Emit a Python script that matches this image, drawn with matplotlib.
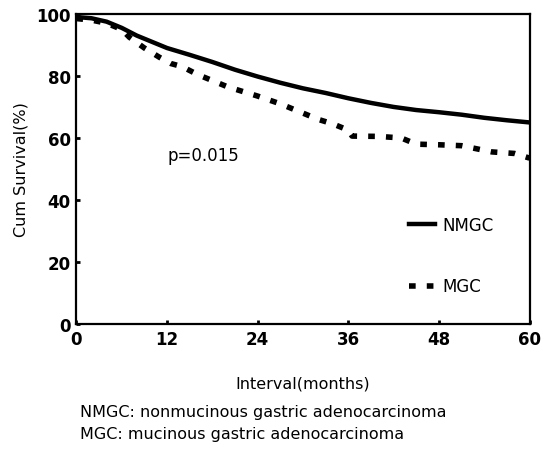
import matplotlib
matplotlib.use("Agg")
import matplotlib.pyplot as plt

# Kaplan-Meier curves (months, cum survival %)
months_nmgc = [0, 2, 4, 6, 8, 10, 12, 15, 18, 21, 24, 27, 30, 33, 36, 39, 42, 45, 48, 51, 54, 57, 60]
surv_nmgc = [99, 98.6, 97.5, 95.5, 93, 91, 89, 86.8, 84.5, 82, 79.8, 77.8, 76, 74.5, 72.8, 71.3, 70, 69, 68.3, 67.5, 66.5, 65.7, 65]

months_mgc = [0, 2, 4, 6, 7, 9, 11, 12.5, 14, 16, 18, 20, 22, 24, 27, 30, 32, 34, 36, 36.5, 40, 43, 45, 48, 51, 53, 55, 58, 60]
surv_mgc = [98.5, 98, 97, 95, 92.5, 89, 86, 84, 83, 80.5, 78.5, 76.5, 75, 73.5, 71, 68, 66, 64.5, 62.5, 60.6, 60.5, 60, 58, 57.8, 57.5, 56.5, 55.5, 55, 53.5]

xticks = [0, 12, 24, 36, 48, 60]
yticks = [0, 20, 40, 60, 80, 100]

fig = plt.figure(figsize=(5.42, 4.52), dpi=100)
ax = fig.add_axes([0.141, 0.281, 0.836, 0.686])

ax.plot(months_nmgc, surv_nmgc, color="black", lw=3.2, label="NMGC")
ax.plot(months_mgc, surv_mgc, color="black", lw=4, linestyle=(0, (1.2, 2.0)), label="MGC")

ax.set_xlim(0, 60)
ax.set_ylim(0, 100)
ax.set_xticks(xticks)
ax.set_yticks(yticks)
ax.tick_params(direction="in", length=3, width=2, labelsize=12, pad=4)
for lab in ax.get_xticklabels() + ax.get_yticklabels():
    lab.set_fontweight("bold")
for s in ax.spines.values():
    s.set_linewidth(1.6)

ax.set_xlabel("Interval(months)", fontsize=11.5, labelpad=20)
ax.set_ylabel("Cum Survival(%)", fontsize=11.5, labelpad=6)

ax.text(12, 53, "p=0.015", fontsize=12)

ax.legend(loc="center left", bbox_to_anchor=(0.7, 0.22), frameon=False,
          fontsize=12, handlelength=1.6, labelspacing=2.6, handletextpad=0.4)

fig.text(0.148, 0.077, "NMGC: nonmucinous gastric adenocarcinoma", fontsize=11.5)
fig.text(0.148, 0.028, "MGC: mucinous gastric adenocarcinoma", fontsize=11.5)

fig.savefig("out.png", dpi=100)
